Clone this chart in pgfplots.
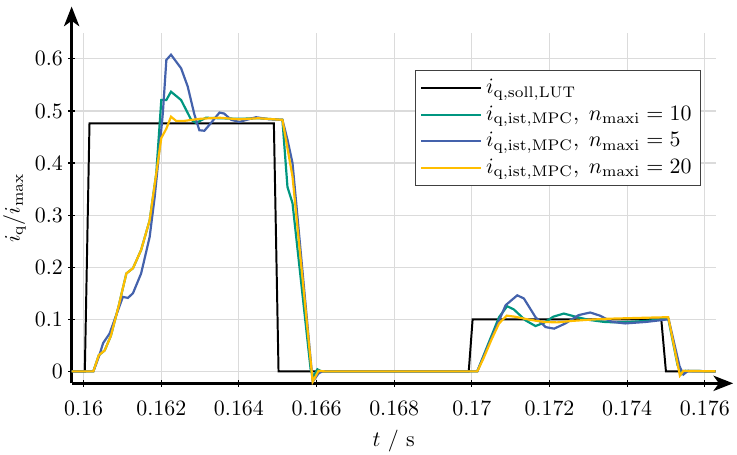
\documentclass[border=0pt]{standalone}
\usepackage{pgfplots}
\pgfplotsset{compat=1.18}
\usetikzlibrary{arrows.meta}
\definecolor{cgreen}{RGB}{0,150,128}
\definecolor{cblue}{RGB}{68,98,172}
\definecolor{cyellow}{RGB}{255,190,0}
\begin{document}
\begin{tikzpicture}
\begin{axis}[
  scale only axis, width=294pt, height=160pt,
  xmin=0.15969, xmax=0.17628, ymin=-0.023, ymax=0.65,
  axis lines=left,
  x axis line style={line width=1.1pt, -{Stealth[length=9pt,width=7pt,inset=2.5pt]}, shorten >=-8pt},
  y axis line style={line width=1.1pt, -{Stealth[length=9pt,width=7pt,inset=2.5pt]}, shorten >=-12pt},
  xtick={0.16,0.162,0.164,0.166,0.168,0.17,0.172,0.174,0.176},
  ytick={0,0.1,0.2,0.3,0.4,0.5,0.6},
  scaled x ticks=false,
  xticklabel style={/pgf/number format/.cd, fixed, precision=3, /tikz/yshift=-3pt},
  yticklabel style={/pgf/number format/.cd, fixed, precision=1, /tikz/xshift=1pt},
  ylabel style={inner sep=1.5pt},
  ylabel shift=-1pt,
  xlabel style={inner sep=1pt, yshift=-2.3pt},
  grid=major,
  grid style={black!14, line width=0.5pt},
  major tick length=3pt,
  tick style={black, line width=0.5pt},
  xlabel={$t\ /\ \mathrm{s}$},
  ylabel={$i_{\mathrm{q}}/i_{\mathrm{max}}$},
  legend style={at={(0.977,0.894)}, anchor=north east, draw=black!75, line width=0.5pt, fill=white, cells={anchor=west}, inner sep=2pt},
  legend image code/.code={\draw[#1] (0pt,0pt) -- (27pt,0pt);},
  every axis plot/.append style={line width=1.0pt},
  clip=false,
]
\path (rel axis cs:0,1) -- ++(0pt,15pt);
\addplot[black, line width=0.9pt] coordinates {
(0.15969,0) (0.16003,0) (0.16015,0.476) (0.16490,0.476) (0.16502,0)
(0.16992,0) (0.17002,0.1) (0.17488,0.1) (0.17500,0) (0.17628,0)
};
\addlegendentry{$i_{\mathrm{q,soll,LUT}}$}
\addplot[cgreen] coordinates {
(0.15969,0) (0.16025,0) (0.16039,0.031) (0.16054,0.040) (0.16070,0.068) (0.16090,0.125)
(0.16110,0.188) (0.16127,0.198) (0.16148,0.233) (0.16170,0.290) (0.16187,0.380)
(0.16200,0.521) (0.16213,0.521) (0.16225,0.537) (0.16251,0.521) (0.16277,0.483)
(0.16290,0.477) (0.16315,0.487) (0.16350,0.486) (0.16400,0.485) (0.16450,0.486)
(0.16512,0.483) (0.16525,0.354) (0.16538,0.323) (0.16585,0.002) (0.16592,-0.010)
(0.16602,0.004) (0.16612,0)
(0.17014,0) (0.17030,0.030) (0.17044,0.056) (0.17070,0.104) (0.17091,0.125)
(0.17108,0.119) (0.17138,0.098) (0.17164,0.087) (0.17185,0.093) (0.17210,0.105)
(0.17237,0.111) (0.17267,0.105) (0.17300,0.099) (0.17340,0.095) (0.17370,0.094)
(0.17410,0.095) (0.17450,0.097) (0.17506,0.101) (0.17530,0.012) (0.17540,-0.005)
(0.17550,0.001) (0.17628,0)
};
\addlegendentry{$i_{\mathrm{q,ist,MPC}},\; n_{\mathrm{maxi}}=10$}
\addplot[cblue] coordinates {
(0.15969,0) (0.16025,0) (0.16040,0.030) (0.16050,0.054) (0.16067,0.073) (0.16080,0.100)
(0.16101,0.143) (0.16114,0.141) (0.16127,0.150) (0.16148,0.188) (0.16170,0.258)
(0.16183,0.335) (0.16195,0.425) (0.16204,0.496) (0.16213,0.598) (0.16225,0.608)
(0.16251,0.582) (0.16268,0.547) (0.16285,0.494) (0.16298,0.463) (0.16311,0.462)
(0.16328,0.477) (0.16350,0.497) (0.16362,0.495) (0.16380,0.483) (0.16401,0.479)
(0.16444,0.488) (0.16478,0.484) (0.16512,0.483) (0.16525,0.445) (0.16538,0.400)
(0.16590,-0.020) (0.16605,-0.004) (0.16615,0)
(0.17014,0) (0.17030,0.028) (0.17052,0.066) (0.17087,0.127) (0.17117,0.146)
(0.17134,0.140) (0.17164,0.104) (0.17190,0.085) (0.17212,0.082) (0.17241,0.092)
(0.17275,0.108) (0.17305,0.113) (0.17330,0.107) (0.17361,0.095) (0.17395,0.092)
(0.17450,0.095) (0.17507,0.100) (0.17535,0.010) (0.17545,-0.006) (0.17557,0.001)
(0.17628,0)
};
\addlegendentry{$i_{\mathrm{q,ist,MPC}},\; n_{\mathrm{maxi}}=5$}
\addplot[cyellow] coordinates {
(0.15969,0) (0.16025,0) (0.16039,0.031) (0.16054,0.040) (0.16070,0.068) (0.16090,0.125)
(0.16110,0.188) (0.16127,0.198) (0.16148,0.233) (0.16170,0.290) (0.16187,0.380)
(0.16200,0.448) (0.16213,0.466) (0.16225,0.489) (0.16238,0.481) (0.16260,0.481)
(0.16300,0.485) (0.16350,0.487) (0.16400,0.484) (0.16450,0.486) (0.16512,0.483)
(0.16538,0.374) (0.16590,-0.020) (0.16605,0.001) (0.16620,0)
(0.17014,0) (0.17030,0.025) (0.17050,0.060) (0.17070,0.092) (0.17090,0.107)
(0.17110,0.105) (0.17150,0.099) (0.17184,0.095) (0.17220,0.094) (0.17260,0.097)
(0.17300,0.099) (0.17350,0.101) (0.17400,0.102) (0.17450,0.103) (0.17506,0.104)
(0.17536,-0.008) (0.17545,0.001) (0.17628,0)
};
\addlegendentry{$i_{\mathrm{q,ist,MPC}},\; n_{\mathrm{maxi}}=20$}
\end{axis}
\end{tikzpicture}
\end{document}
